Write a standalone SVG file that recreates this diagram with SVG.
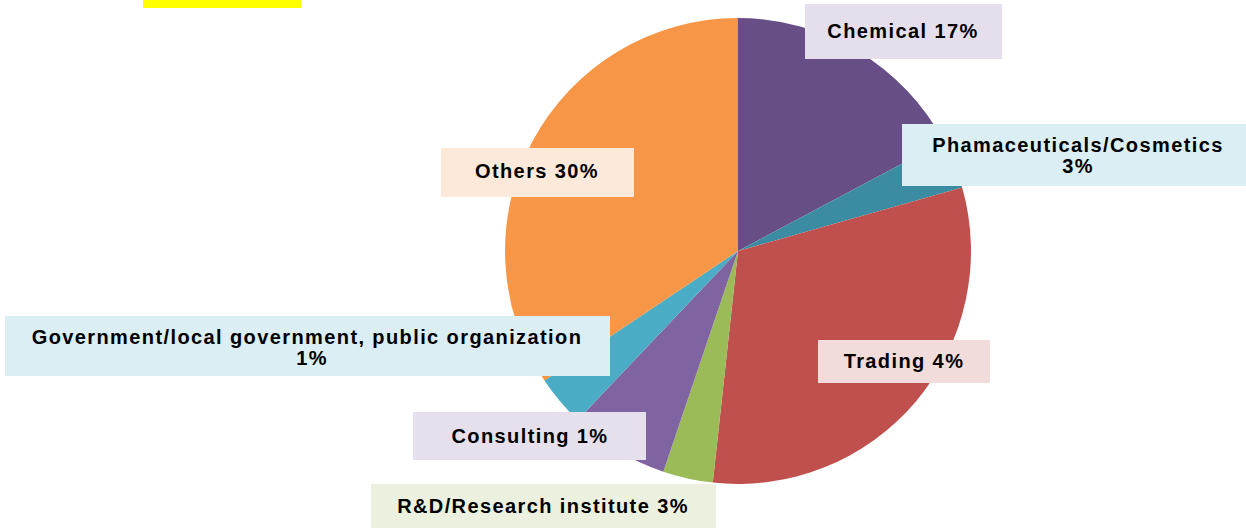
<svg xmlns="http://www.w3.org/2000/svg" width="1246" height="528" viewBox="0 0 1246 528">
<style>
.lbl{font-family:"Liberation Sans",Arial,sans-serif;font-weight:bold;font-size:20px;letter-spacing:1.4px;fill:#000;text-anchor:middle}
</style>
<rect width="1246" height="528" fill="#fff"/>
<rect x="143" y="0" width="158" height="8" fill="#ffff00"/>
<g id="pie">
<path id="s-chemical" d="M738,251 L738,18 A233,233 0 0 1 943.7,141.6 Z" fill="#684E87"/>
<path id="s-pharma" d="M738,251 L943.7,141.6 A233,233 0 0 1 962.2,187.6 Z" fill="#3B8CA3"/>
<path id="s-trading" d="M738,251 L962.2,187.6 A233,233 0 0 1 712.8,482.6 Z" fill="#C0504D"/>
<path id="s-rd" d="M738,251 L712.8,482.6 A233,233 0 0 1 663.3,471.7 Z" fill="#9BBB59"/>
<path id="s-consulting" d="M738,251 L663.3,471.7 A233,233 0 0 1 577.6,420 Z" fill="#8064A2"/>
<path id="s-government" d="M738,251 L577.6,420 A233,233 0 0 1 544.4,380.6 Z" fill="#4BACC6"/>
<path id="s-others" d="M738,251 L544.4,380.6 A233,233 0 0 1 738,18 Z" fill="#F79646"/>
</g>
<g id="label-chemical">
<rect x="805" y="4" width="197" height="55" fill="#E5DFEC"/>
<text class="lbl" x="903" y="38">Chemical 17%</text>
</g>
<g id="label-pharma">
<rect x="902" y="124" width="344" height="62" fill="#DAEEF3"/>
<text class="lbl" x="1078" y="152">Phamaceuticals/Cosmetics</text>
<text class="lbl" x="1078" y="173">3%</text>
</g>
<g id="label-others">
<rect x="441" y="148" width="193" height="49" fill="#FDE9D9"/>
<text class="lbl" x="537" y="178">Others 30%</text>
</g>
<g id="label-government">
<rect x="5" y="316" width="605" height="60" fill="#DAEEF3"/>
<text class="lbl" x="307" y="344">Government/local government, public organization</text>
<text class="lbl" x="312" y="365">1%</text>
</g>
<g id="label-trading">
<rect x="818" y="340" width="172" height="43" fill="#F2DCDB"/>
<text class="lbl" x="904" y="368">Trading 4%</text>
</g>
<g id="label-consulting">
<rect x="413" y="412" width="233" height="48" fill="#E5E0EC"/>
<text class="lbl" x="530" y="443">Consulting 1%</text>
</g>
<g id="label-rd">
<rect x="371" y="484" width="345" height="44" fill="#EBF1DE"/>
<text class="lbl" x="543" y="513">R&amp;D/Research institute 3%</text>
</g>
<g id="connectors"/>
</svg>
